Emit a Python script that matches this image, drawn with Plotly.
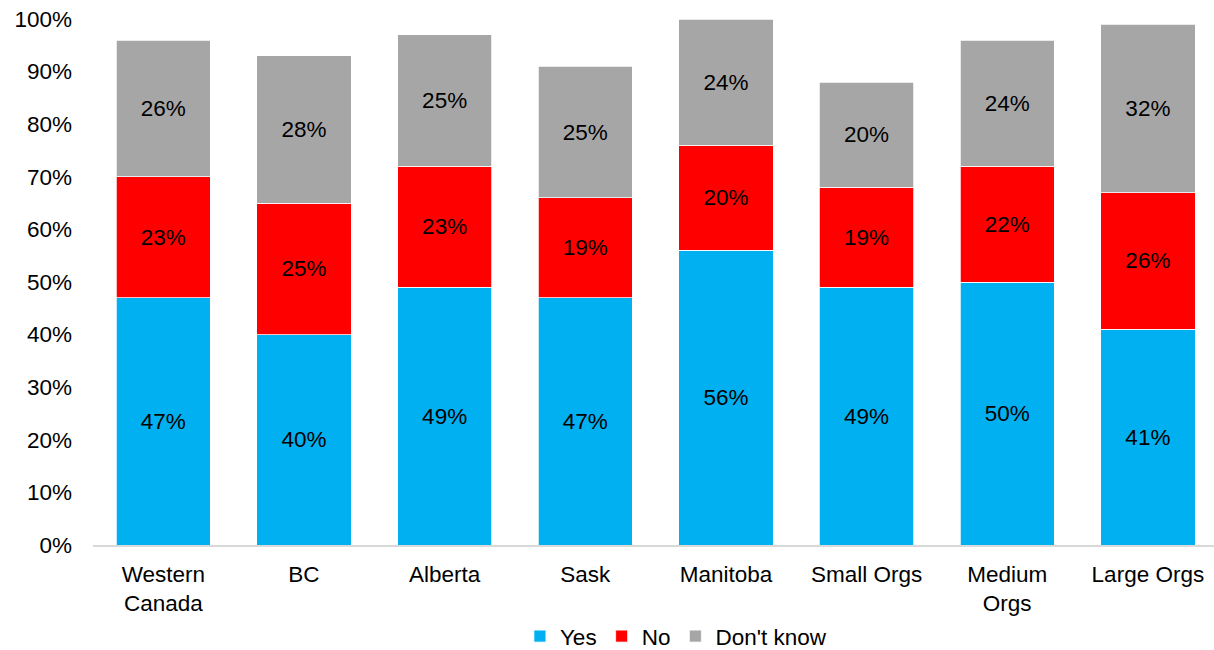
import plotly.graph_objects as go

categories = ["Western<br>Canada", "BC", "Alberta", "Sask", "Manitoba",
              "Small Orgs", "Medium<br>Orgs", "Large Orgs"]
yes_vals = [47, 40, 49, 47, 56, 49, 50, 41]
no_vals = [23, 25, 23, 19, 20, 19, 22, 26]
dont_know_vals = [26, 28, 25, 25, 24, 20, 24, 32]

series = [
    ("Yes", yes_vals, "#00B0F0"),
    ("No", no_vals, "#FF0000"),
    ("Don't know", dont_know_vals, "#A6A6A6"),
]

FONT = "Liberation Sans, Arial, sans-serif"
FS = 22.5

fig = go.Figure()
for name, vals, color in series:
    fig.add_trace(go.Bar(
        x=categories,
        y=vals,
        name=name,
        marker=dict(color=color, line=dict(color="white", width=0.75)),
        text=[f"{v}%" for v in vals],
        textposition="inside",
        insidetextanchor="middle",
        textangle=0,
        constraintext="none",
        textfont=dict(family=FONT, size=FS, color="black"),
        hoverinfo="skip",
    ))

fig.update_layout(
    barmode="stack",
    bargap=0.33,
    width=1214,
    height=650,
    margin=dict(l=93, r=0, t=19, b=105, autoexpand=False),
    paper_bgcolor="white",
    plot_bgcolor="white",
    font=dict(family=FONT, size=FS, color="black"),
    showlegend=True,
    legend=dict(
        orientation="h",
        x=0.52,
        xanchor="center",
        y=-0.133,
        yanchor="top",
        font=dict(family=FONT, size=FS, color="black"),
        traceorder="normal",
        itemwidth=30,
    ),
    uniformtext=dict(mode=False),
)

fig.update_xaxes(
    range=[-0.5, 7.47],
    showline=True,
    linecolor="#D9D9D9",
    linewidth=1.5,
    showgrid=False,
    ticks="",
    ticklabelstandoff=8,
    tickfont=dict(family=FONT, size=FS, color="black"),
    fixedrange=True,
)

fig.update_yaxes(
    range=[0, 100],
    dtick=10,
    ticksuffix="%",
    showgrid=False,
    zeroline=False,
    showline=False,
    ticks="",
    ticklabelstandoff=20,
    tickfont=dict(family=FONT, size=FS, color="black"),
    fixedrange=True,
)

fig.write_html("out.html")
